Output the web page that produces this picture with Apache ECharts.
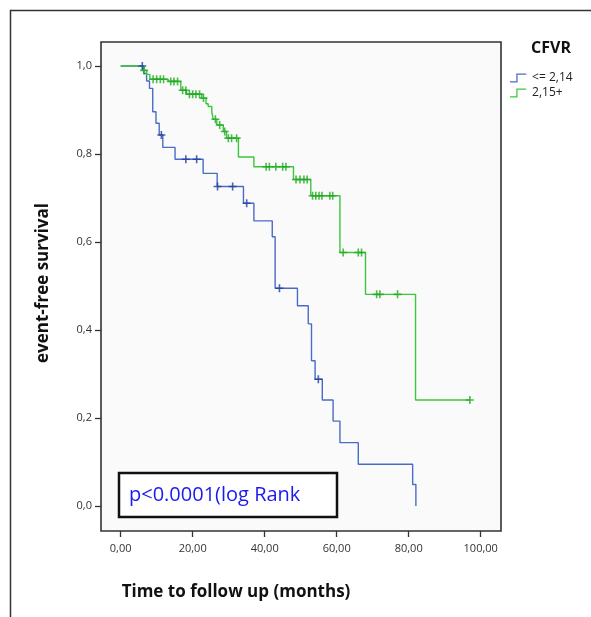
<!DOCTYPE html>
<html>
<head>
<meta charset="utf-8">
<script src="https://cdn.jsdelivr.net/npm/echarts@6/dist/echarts.min.js"></script>
<style>
  html, body { margin: 0; padding: 0; background: #fff; }
  #main { width: 591px; height: 617px; }
</style>
</head>
<body>
<div id="main"></div>
<script>
// Kaplan-Meier steps: time (months) and survival after each event
var lowTimes = [0, 6.4, 7.2, 8.0, 8.9, 9.8, 10.7, 11.7, 15.1, 22.9, 26.8, 34.1, 37.0, 42.1, 42.9, 49.1, 52.1, 53.0, 54.0, 56.0, 59.0, 60.9, 66.0, 81.1, 82.0];
var lowSurv  = [1.0, 0.983, 0.966, 0.949, 0.896, 0.870, 0.843, 0.815, 0.788, 0.756, 0.726, 0.688, 0.648, 0.612, 0.495, 0.455, 0.414, 0.330, 0.288, 0.241, 0.193, 0.144, 0.095, 0.049, 0.0];
var lowCensor = [6.0, 11.3, 18.1, 21.1, 26.9, 31.1, 35.0, 44.1, 54.9];

var highTimes = [0, 6.1, 7.2, 8.1, 13.2, 16.7, 18.3, 22.5, 23.7, 24.3, 25.3, 25.7, 26.7, 28.5, 29.4, 32.7, 37.0, 48.0, 52.8, 60.9, 68.0, 81.9, 97.0];
var highSurv  = [1.0, 0.990, 0.981, 0.970, 0.965, 0.945, 0.936, 0.927, 0.914, 0.908, 0.896, 0.879, 0.866, 0.851, 0.836, 0.793, 0.771, 0.742, 0.705, 0.576, 0.481, 0.241, 0.241];
var highCensor = [6.5, 9.0, 10.0, 11.0, 11.9, 13.9, 14.8, 15.8, 17.2, 18.1, 19.1, 20.0, 20.9, 21.9, 23.0, 26.3, 27.5, 28.9, 29.9, 30.8, 32.2,
                  40.4, 41.3, 43.1, 45.0, 45.9, 48.7, 49.8, 50.9, 51.8, 53.3, 54.2, 55.1, 55.9, 58.1, 58.9, 61.8, 66.0, 66.9, 71.1, 72.0, 76.9, 97.0];

var xTicks = [0, 20, 40, 60, 80, 100];
var yTicks = [0, 0.2, 0.4, 0.6, 0.8, 1.0];
var groupNames = ['<= 2,14', '2,15+'];

// survival value of the step function at time t
function survAt(times, surv, t) {
  var s = surv[0];
  for (var i = 0; i < times.length; i++) {
    if (times[i] <= t) s = surv[i];
  }
  return s;
}
function pairs(a, b) {
  return a.map(function (v, i) { return [v, b[i]]; });
}
function censorPts(c, times, surv) {
  return c.map(function (t) { return [t, survAt(times, surv, t)]; });
}

var plus = 'path://M4,0H6V4H10V6H6V10H4V6H0V4H4Z';
var stepIcon = 'path://M0,8.6H7V0H18V1.4H8.4V10H0Z';

var chartDom = document.getElementById('main');
var myChart = echarts.init(chartDom);
var option;

option = {
  animation: false,
  backgroundColor: '#fff',
  textStyle: { fontFamily: 'Open Sans' },
  title: {
    text: 'CFVR',
    left: 531,
    top: 40,
    padding: 0,
    textStyle: { fontSize: 16, fontWeight: 'bold', color: '#111', fontFamily: 'Open Sans' }
  },
  legend: {
    data: groupNames,
    orient: 'vertical',
    left: 510,
    top: 72,
    padding: 0,
    itemGap: 3,
    itemWidth: 18,
    itemHeight: 9,
    icon: stepIcon,
    textStyle: { fontSize: 12, color: '#222' }
  },
  grid: {
    left: 101,
    top: 42,
    right: 90,
    bottom: 86,
    show: true,
    backgroundColor: '#fafafa',
    borderColor: '#333',
    borderWidth: 1.6
  },
  xAxis: {
    type: 'value',
    min: -5.47,
    max: 105.64,
    axisLine: { show: false, onZero: false },
    splitLine: { show: false },
    axisTick: { show: true, inside: false, length: 6, customValues: xTicks, lineStyle: { color: '#333', width: 1.3 } },
    axisLabel: {
      customValues: xTicks,
      margin: 12,
      fontSize: 11,
      color: '#333',
      formatter: function (v) { return v.toFixed(2).replace('.', ','); }
    }
  },
  yAxis: {
    type: 'value',
    min: -0.0568,
    max: 1.0545,
    axisLine: { show: false, onZero: false },
    splitLine: { show: false },
    axisTick: { show: true, inside: false, length: 6, customValues: yTicks, lineStyle: { color: '#333', width: 1.3 } },
    axisLabel: {
      customValues: yTicks,
      margin: 9,
      fontSize: 11,
      color: '#333',
      formatter: function (v) { return v.toFixed(1).replace('.', ','); }
    }
  },
  graphic: [
    { type: 'rect', shape: { x: 10.5, y: 10.5, width: 620, height: 640 }, style: { fill: 'none', stroke: '#333', lineWidth: 1.5 }, silent: true },
    {
      type: 'text', x: 43, y: 283, rotation: Math.PI / 2,
      style: { text: 'event-free survival', fontSize: 17, fontWeight: 'bold', fontFamily: 'Open Sans', fill: '#111', align: 'center', verticalAlign: 'middle' }
    },
    {
      type: 'text', x: 236, y: 592,
      style: { text: 'Time to follow up (months)', fontSize: 17, fontWeight: 'bold', fontFamily: 'Open Sans', fill: '#111', align: 'center', verticalAlign: 'middle' }
    },
    {
      type: 'group', z: 100,
      children: [
        { type: 'rect', shape: { x: 119, y: 473, width: 218, height: 44 }, style: { fill: '#fff', stroke: '#111', lineWidth: 2.5 } },
        { type: 'text', x: 129, y: 495, style: { text: 'p<0.0001(log Rank', fontSize: 20, fontFamily: 'Open Sans', fill: '#1a1aee', verticalAlign: 'middle' } }
      ]
    }
  ],
  series: [
    {
      name: groupNames[0],
      type: 'line',
      step: 'end',
      showSymbol: false,
      data: pairs(lowTimes, lowSurv),
      itemStyle: { color: '#4a6cc8' },
      lineStyle: { color: '#4a6cc8', width: 1.4 }
    },
    {
      name: groupNames[1],
      type: 'line',
      step: 'end',
      showSymbol: false,
      data: pairs(highTimes, highSurv),
      itemStyle: { color: '#3cc63c' },
      lineStyle: { color: '#3cc63c', width: 1.4 }
    },
    {
      name: 'low censored',
      type: 'scatter',
      symbol: plus,
      symbolSize: 8,
      z: 5,
      data: censorPts(lowCensor, lowTimes, lowSurv),
      itemStyle: { color: '#1f3f9e' }
    },
    {
      name: 'high censored',
      type: 'scatter',
      symbol: plus,
      symbolSize: 8,
      z: 5,
      data: censorPts(highCensor, highTimes, highSurv),
      itemStyle: { color: '#22aa22' }
    }
  ]
};

option && myChart.setOption(option);
</script>
</body>
</html>
